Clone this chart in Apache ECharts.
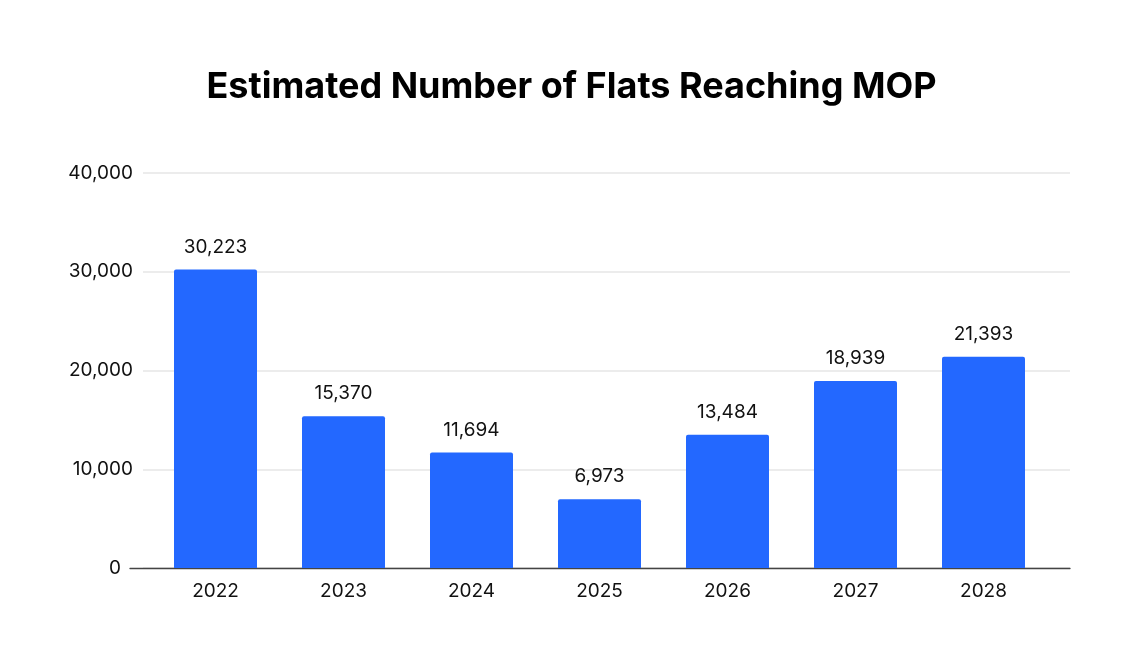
<!DOCTYPE html>
<html><head><meta charset="utf-8">
<script src="https://cdn.jsdelivr.net/npm/echarts@6/dist/echarts.min.js"></script>
<style>html,body{margin:0;padding:0;background:#fff}#c{width:1143px;height:654px}</style>
</head><body><div id="c"></div>
<script>
const categories = ['2022','2023','2024','2025','2026','2027','2028'];
const flats = [30223, 15370, 11694, 6973, 13484, 18939, 21393];
const yTicks = [0, 10000, 20000, 30000, 40000];
const titleText = 'Estimated Number of Flats Reaching MOP';

const font = 'Inter, "Noto Sans", sans-serif';
const fmt = v => v.toLocaleString('en-US');
const chart = echarts.init(document.getElementById('c'));
chart.setOption({
  animation: false,
  title: { text: titleText, left: 'center', top: 64,
    textStyle: { fontFamily: font, fontSize: 36, fontWeight: 'bold', color: '#000' } },
  grid: [
    { left: 151.5, right: 95.5, top: 173, bottom: 86 },
    { left: 143, right: 73, top: 173, bottom: 86 },
    { left: 130, right: 73, top: 173, bottom: 86 }
  ],
  xAxis: [
    { type: 'category', data: categories, gridIndex: 0,
      axisLine: { show: false }, axisTick: { show: false },
      axisLabel: { margin: 14, fontFamily: font, fontSize: 19, color: '#111' } },
    { type: 'value', gridIndex: 1, show: false },
    { type: 'category', gridIndex: 2, data: [''], axisTick: { show: false }, axisLabel: { show: false },
      axisLine: { show: true, lineStyle: { color: '#444', width: 1.3 } } }
  ],
  yAxis: [
    { type: 'value', gridIndex: 0, min: yTicks[0], max: yTicks[yTicks.length-1], interval: 10000, show: false },
    { type: 'value', gridIndex: 1, min: yTicks[0], max: yTicks[yTicks.length-1], interval: 10000,
      axisLine: { show: false }, axisTick: { show: false },
      axisLabel: { margin: 10, fontFamily: font, fontSize: 19, color: '#111',
        formatter: v => v === 0 ? '{z|0}' : fmt(v),
        rich: { z: { fontFamily: font, fontSize: 19, color: '#111', padding: [0, 12, 0, 0] } } },
      splitLine: { lineStyle: { color: '#e6e6e6', width: 1.5 } } },
    { type: 'value', gridIndex: 2, min: 0, max: 40000, show: false }
  ],
  series: [{
    type: 'bar', xAxisIndex: 0, yAxisIndex: 0, data: flats, barWidth: 83,
    itemStyle: { color: '#2368FF', borderRadius: [2, 2, 0, 0] },
    label: { show: true, position: 'top', distance: 13, fontFamily: font, fontSize: 19, color: '#111',
      formatter: p => fmt(p.value) }
  }]
});
</script></body></html>
